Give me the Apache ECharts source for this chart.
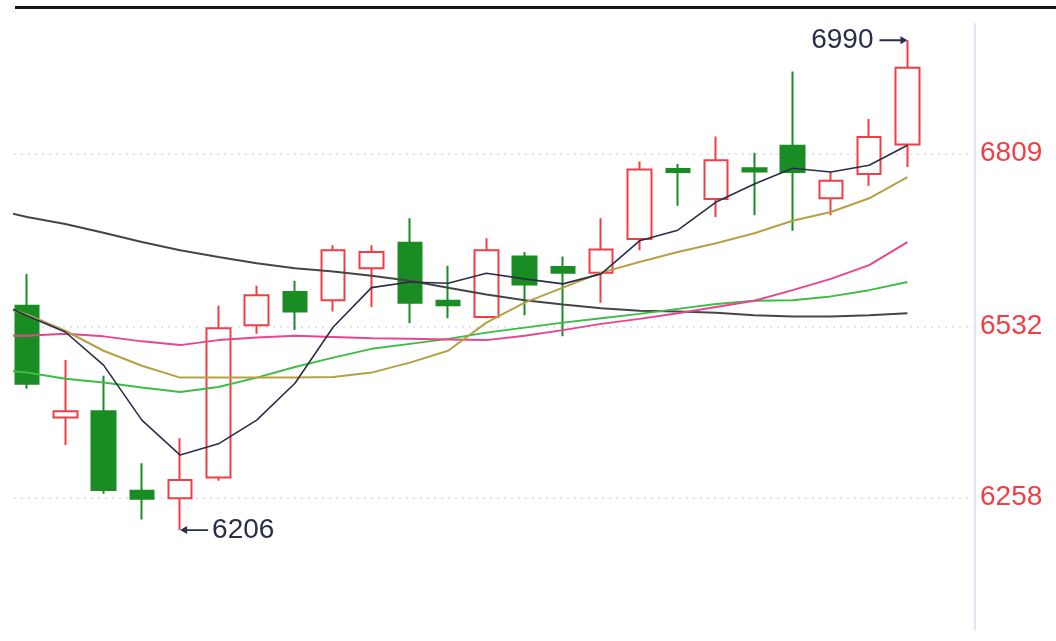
<!DOCTYPE html>
<html>
<head>
<meta charset="utf-8">
<script src="https://cdn.jsdelivr.net/npm/echarts@6/dist/echarts.min.js"></script>
<style>
html,body{margin:0;padding:0;background:#fff;}
#main{width:1056px;height:641px;}
</style>
</head>
<body>
<div id="main"></div>
<script>
// sessions: index 0 is the session before the first visible candle (only its averages show)
var categories = ['d0','d1','d2','d3','d4','d5','d6','d7','d8','d9','d10','d11','d12','d13','d14','d15','d16','d17','d18','d19','d20','d21','d22','d23','d24'];
var openVals  = [6565,6386,6396,6269,6257,6290,6534,6587,6574,6625,6666,6573,6547,6644,6627,6618,6672,6784,6736,6785,6821,6737,6776,6823];
var closeVals = [6440,6396,6270,6256,6286,6529,6582,6556,6654,6651,6570,6566,6654,6599,6618,6655,6783,6779,6798,6780,6779,6765,6835,6946];
var lowVals   = [6432,6342,6264,6223,6206,6285,6520,6526,6556,6563,6537,6545,6545,6550,6516,6570,6654,6725,6707,6710,6685,6710,6757,6787];
var highVals  = [6616,6478,6453,6313,6353,6565,6597,6605,6662,6662,6705,6629,6673,6651,6644,6705,6796,6792,6836,6810,6940,6780,6864,6990];
var ma5  = [6577,6549,6523,6470,6382,6326,6344,6382,6441,6531,6594,6603,6601,6617,6608,6600,6616,6669,6686,6731,6760,6785,6779,6790,6822];
var ma10 = [6570,6551,6525,6493,6469,6450,6450,6450,6450,6451,6458,6474,6493,6538,6570,6594,6618,6635,6651,6665,6681,6701,6715,6737,6771];
var maPink  = [6517,6517,6520,6516,6508,6502,6510,6514,6517,6515,6513,6512,6511,6510,6517,6526,6536,6544,6553,6563,6573,6590,6608,6630,6667];
var maGreen = [6464,6458,6448,6442,6434,6427,6435,6450,6467,6482,6496,6504,6512,6522,6530,6538,6545,6552,6560,6568,6573,6574,6580,6590,6603];
var maGray  = [6721,6707,6696,6682,6667,6654,6643,6633,6625,6620,6613,6605,6594,6583,6574,6567,6561,6557,6556,6554,6550,6548,6548,6550,6553];
var yTicks = [6258, 6532, 6809];
var yMin = 6046, yMax = 7016;

var candleCats = categories.slice(1);
var candleData = openVals.map(function (o, i) {
  return [o, closeVals[i], lowVals[i], highVals[i]];
});
function pairs(arr) { return arr.map(function (v, i) { return [i, v]; }); }

var RED = '#f03e44', GREEN = '#1a8c24', NAVY = '#2a2e48';
var FONT = 'Liberation Sans, Arial, sans-serif';

function maSeries(data, color, width) {
  return {
    type: 'line', xAxisIndex: 2, yAxisIndex: 2, data: pairs(data),
    showSymbol: false, symbol: 'none', smooth: false, z: 3, clip: true,
    lineStyle: { color: color, width: width }, silent: true
  };
}

var chart = echarts.init(document.getElementById('main'), null, { renderer: 'canvas' });
chart.setOption({
  animation: false,
  backgroundColor: '#fff',
  grid: [
    { left: 14, right: 81, top: 24, bottom: 11 },
    { left: 7.85, width: 918.75, top: 24, bottom: 11 },
    { left: 14, width: 912.6, top: 24, bottom: 11 }
  ],
  xAxis: [
    { type: 'value', gridIndex: 0, min: 0, max: 1, show: false },
    { type: 'category', gridIndex: 1, data: candleCats, boundaryGap: true, show: false },
    { type: 'value', gridIndex: 2, min: 0.6604, max: 24.5, show: false }
  ],
  yAxis: [
    {
      type: 'value', gridIndex: 0, position: 'right', min: yMin, max: yMax, scale: true,
      axisLine: { show: true, onZero: false, lineStyle: { color: '#e4e4f6', width: 2 } },
      axisTick: { show: false, customValues: yTicks },
      axisLabel: { customValues: yTicks, color: RED, fontSize: 28, fontFamily: FONT, margin: 5,
                   formatter: function (v) { return String(v); } },
      splitLine: { show: true, lineStyle: { color: '#d9dcef', type: [2, 5], width: 1.5 } }
    },
    { type: 'value', gridIndex: 1, min: yMin, max: yMax, scale: true, show: false, splitLine: { show: false } },
    { type: 'value', gridIndex: 2, min: yMin, max: yMax, scale: true, show: false, splitLine: { show: false } }
  ],
  graphic: [
    { type: 'rect', left: 15, top: 6, shape: { width: 1041, height: 3 }, style: { fill: '#141414' }, z: 100 }
  ],
  series: [
    {
      type: 'candlestick', xAxisIndex: 1, yAxisIndex: 1, data: candleData,
      barWidth: 24, z: 2,
      itemStyle: { color: '#ffffff', color0: GREEN, borderColor: RED, borderColor0: GREEN, borderWidth: 2 },
      markPoint: {
        silent: true,
        itemStyle: { color: NAVY },
        label: { color: NAVY, fontSize: 28, fontFamily: FONT, formatter: function (p) { return String(p.value); } },
        data: [
          { type: 'max', valueDim: 'highest',
            symbol: 'path://M0,4 L21,4 L21,0.5 L28,5 L21,9.5 L21,6 L0,6 Z',
            symbolSize: [28, 8], symbolOffset: [-14, 0],
            label: { position: 'left', distance: 6 } },
          { type: 'min', valueDim: 'lowest',
            symbol: 'path://M28,4 L7,4 L7,0.5 L0,5 L7,9.5 L7,6 L28,6 Z',
            symbolSize: [28, 8], symbolOffset: [14, 0],
            label: { position: 'right', distance: 4 } }
        ]
      }
    },
    maSeries(maGray, '#454545', 2),
    maSeries(maGreen, '#3fbb46', 2),
    maSeries(maPink, '#e8468c', 2),
    maSeries(ma10, '#b5a045', 2),
    maSeries(ma5, NAVY, 1.6)
  ]
});
</script>
</body>
</html>
